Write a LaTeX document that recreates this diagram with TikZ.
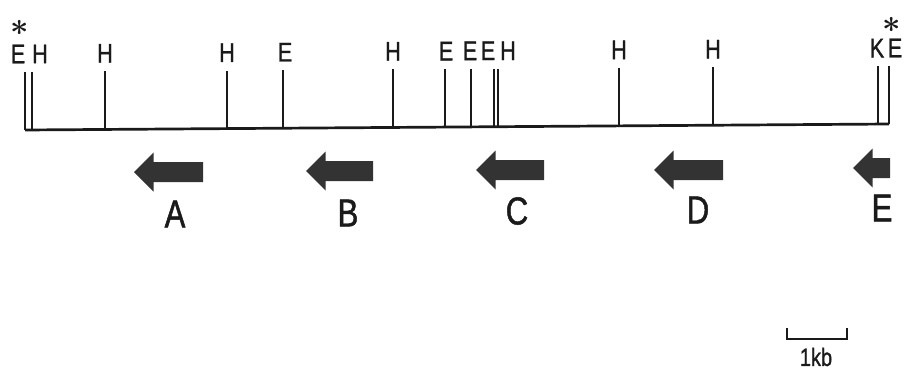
\documentclass[tikz,border=0pt]{standalone}
\usepackage{fontspec}
\setmainfont{Liberation Sans}
\newfontfamily\narrowfont[FakeStretch=0.8,FakeBold=1.2]{Liberation Sans}
\definecolor{ink}{HTML}{1A1A1A}
\definecolor{arrowgray}{HTML}{333333}
\begin{document}
\begin{tikzpicture}[x=1pt,y=-1pt,
  line/.style={draw=ink,line width=2.7pt},
  site/.style={font=\narrowfont\fontsize{27}{27}\selectfont,text=ink,inner sep=0pt,anchor=center},
  star/.style={font=\fontsize{10}{10}\selectfont\boldmath,scale=3.2,text=ink,inner sep=0pt,anchor=base},
  gene/.style={fill=arrowgray,draw=none},
  glabel/.style={font=\narrowfont\fontsize{39}{39}\selectfont,text=ink,inner sep=0pt,anchor=center},
  scalebar/.style={draw=ink,line width=2pt},
  scalelabel/.style={font=\narrowfont\fontsize{25}{25}\selectfont,text=ink,inner sep=0pt,anchor=center}]
\useasboundingbox (0,0) rectangle (906,375);
% restriction sites: index/x/label/label x
\foreach \n/\x/\l/\lx in {1/25/E/18, 2/32/H/40, 3/105/H/105, 4/227/H/227, 5/283/E/285,
  6/393/H/393, 7/445/E/446, 8/471/E/470, 9/494/E/488, 10/498/H/508,
  11/619/H/619, 12/713/H/713, 13/878/K/877, 14/889/E/895}{
  \pgfmathsetmacro\yb{130-0.00694*(\x-25)}
  \coordinate (b\n) at (\x,\yb);
  \coordinate (t\n) at (\x,\yb-58);
  \node[site] (s\n) at (\lx,\yb-76) {\l};
  \draw[line] (b\n) -- (t\n);
}
\draw[line] (b1) -- (b14);
\node[star] (ast1) at (20,35) {\smash{$\ast$}};
\node[star] (ast2) at (892,32) {\smash{$\ast$}};
% genes: name/tip x/right x/centre y/label x/label y
\foreach \g/\tx/\rx/\cy/\lx/\ly in {A/134/203/172/175/214, B/306/373/171/348/213,
  C/476/544/170/517/211, D/654/723/170/698/210, E/853/890/168/882/208}{
  \fill[gene] (\tx,\cy) -- (\tx+19.5,\cy-19.5) -- (\tx+19.5,\cy-10) -- (\rx,\cy-10)
    -- (\rx,\cy+10) -- (\tx+19.5,\cy+10) -- (\tx+19.5,\cy+19.5) -- cycle;
  \node[glabel] (gl\g) at (\lx,\ly) {\g};
}
% scale bar
\coordinate (sa) at (787,328);
\coordinate (sb) at (787,339);
\coordinate (sc) at (847,339);
\coordinate (sd) at (847,328);
\draw[scalebar] (sa) -- (sb) -- (sc) -- (sd);
\node[scalelabel] (kb) at (816,357) {1kb};
\end{tikzpicture}
\end{document}
